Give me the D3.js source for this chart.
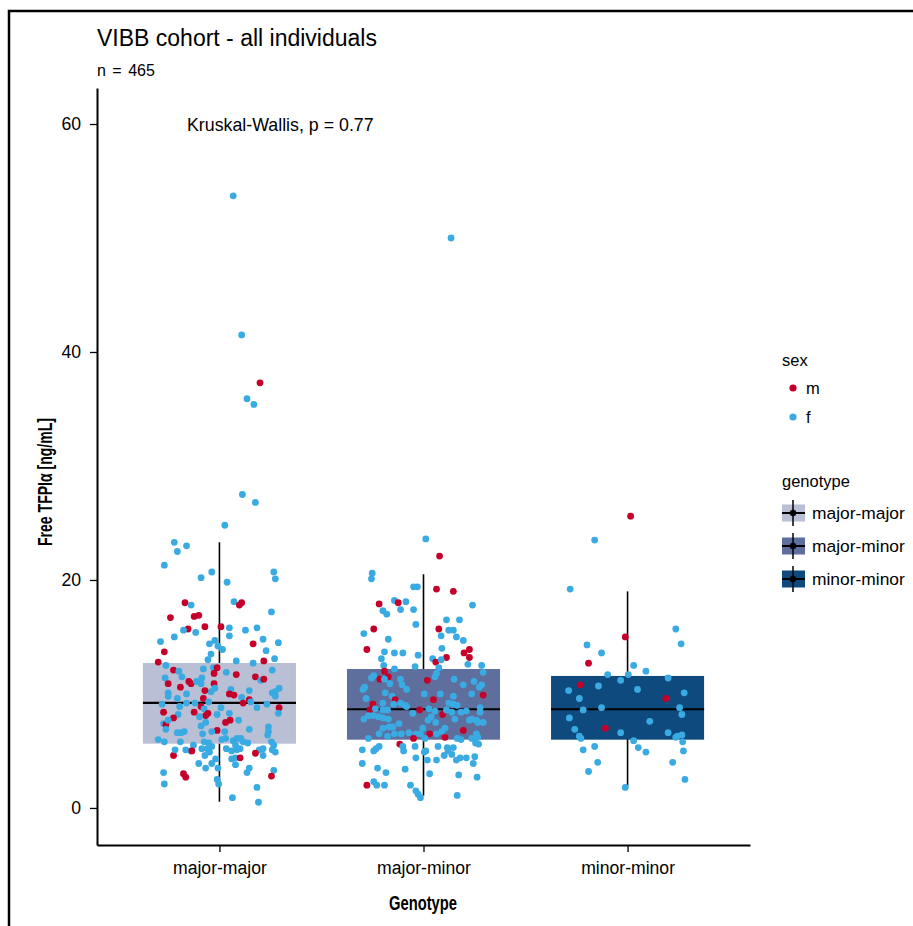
<!DOCTYPE html>
<html>
<head>
<meta charset="utf-8">
<script src="https://cdn.jsdelivr.net/npm/d3@7"></script>
<style>
  html, body { margin: 0; padding: 0; background: #fff; }
  svg text { font-family: "Liberation Sans", Arial, Helvetica, sans-serif; fill: #000; }
  .narrow { font-family: "Liberation Sans Narrow", "Arial Narrow", "Liberation Sans", sans-serif; }
</style>
</head>
<body>
<div id="chart"></div>
<script>
// categories
var genotypes = ["major-major", "major-minor", "minor-minor"];
var sexes = ["m", "f"];
var yTicks = [0, 20, 40, 60];

// box summaries (whisker low, q1, median, q3, whisker high)
var boxLow  = [0.55, 1.08, 1.87];
var boxQ1   = [5.64, 5.99, 5.99];
var boxMed  = [9.21, 8.66, 8.66];
var boxQ3   = [12.72, 12.19, 11.58];
var boxHigh = [23.3, 20.5, 19.0];

// major-major: values, jitter (fraction of jitter width), sex
var mmValues = [53.7, 41.5, 37.3, 35.9, 35.4, 27.5, 26.8, 24.8,
  23.3, 23.0, 22.5, 21.3, 20.7, 20.2, 19.8, 20.7, 20.1, 18.0,
  17.8, 18.1, 17.8, 18.0, 17.2, 16.7, 16.8, 16.9, 15.9, 15.9,
  15.7, 15.6, 15.4, 15.8, 15.1, 15.6, 15.8, 15.0, 14.6, 14.8,
  14.5, 14.4, 14.7, 14.4, 14.2, 13.9, 13.7, 13.8, 13.5, 13.0,
  13.1, 12.8, 12.5, 12.9, 12.7, 12.9, 12.1, 12.0, 11.5, 12.2,
  12.3, 12.3, 11.8, 11.9, 11.7, 11.5, 11.2, 11.3, 12.1, 11.4,
  11.1, 10.9, 11.1, 11.4, 10.9, 10.9, 10.6, 10.9, 10.5, 10.2,
  10.3, 10.4, 10.0, 9.9, 9.7, 10.3, 9.5, 9.2, 9.3, 8.8,
  9.1, 10.1, 10.2, 10.5, 9.8, 10.1, 9.8, 9.6, 10.0, 9.6,
  9.3, 9.2, 9.2, 8.9, 9.1, 8.9, 8.7, 8.8, 8.8, 8.3,
  8.4, 8.4, 8.3, 8.1, 8.2, 8.3, 8.2, 8.0, 7.9, 7.4,
  7.3, 6.9, 7.7, 7.7, 7.7, 7.5, 7.5, 7.2, 6.9, 6.8,
  6.7, 6.7, 6.6, 6.6, 6.7, 6.5, 5.8, 6.0, 5.8, 7.1,
  6.7, 6.4, 6.1, 5.9, 6.1, 5.8, 5.7, 5.5, 5.2, 5.1,
  5.0, 5.2, 6.0, 6.1, 5.8, 5.7, 5.4, 5.2, 4.9, 4.6,
  5.2, 5.5, 5.1, 5.0, 4.6, 5.0, 5.1, 5.8, 5.5, 4.9,
  5.1, 5.2, 5.1, 4.6, 4.8, 4.4, 4.3, 4.4, 3.8, 4.3,
  3.9, 3.5, 3.9, 3.5, 3.0, 2.7, 3.1, 2.1, 3.5, 3.1,
  3.3, 2.8, 2.5, 2.1, 1.8, 0.9, 0.5];
var mmJitter = [0.18, 0.29, 0.53, 0.36, 0.45, 0.30, 0.47, 0.07,
  -0.59, -0.43, -0.55, -0.72, -0.10, -0.24, 0.10, 0.71, 0.73, -0.45,
  -0.37, 0.19, 0.26, 0.29, 0.68, -0.64, -0.33, -0.27, -0.19, 0.02,
  -0.41, -0.47, -0.31, 0.13, 0.13, 0.34, 0.49, -0.59, -0.77, 0.57,
  0.77, 0.44, -0.06, -0.13, -0.02, 0.04, -0.72, 0.61, -0.11, -0.15,
  0.72, -0.80, -0.70, 0.22, 0.44, 0.58, -0.60, -0.53, -0.49, -0.21,
  -0.08, -0.03, -0.07, 0.09, 0.22, 0.47, 0.54, 0.58, 0.69, -0.71,
  -0.40, -0.37, -0.30, -0.23, -0.24, -0.67, -0.51, -0.07, -0.06, -0.11,
  -0.19, 0.15, 0.13, 0.19, 0.29, 0.39, 0.39, 0.31, 0.41, 0.49,
  0.62, 0.69, 0.73, 0.78, 0.73, -0.67, -0.67, -0.55, -0.43, -0.21,
  -0.14, -0.32, -0.43, -0.52, -0.75, -0.24, -0.20, 0.02, 0.78, 0.77,
  -0.73, -0.33, -0.15, -0.18, -0.03, 0.13, -0.54, -0.26, -0.60, -0.73,
  -0.70, -0.70, -0.67, 0.25, 0.14, 0.08, -0.18, -0.24, 0.39, -0.03,
  -0.10, 0.07, -0.50, -0.55, -0.46, -0.22, -0.51, -0.80, -0.72, 0.64,
  0.64, 0.63, 0.23, 0.18, 0.28, 0.31, 0.37, 0.21, 0.27, 0.23,
  0.16, 0.09, 0.03, 0.08, -0.20, -0.14, -0.10, -0.16, -0.13, -0.19,
  -0.23, -0.34, -0.44, -0.37, -0.60, -0.36, -0.58, 0.68, 0.71, 0.73,
  0.69, 0.57, 0.52, 0.57, 0.47, 0.21, 0.16, 0.27, 0.21, -0.05,
  -0.10, -0.02, -0.27, -0.18, -0.47, -0.44, -0.73, -0.72, 0.39, 0.36,
  0.71, 0.68, -0.03, -0.01, 0.49, 0.17, 0.51];
var mmSex = "ffmfffff" +
  "fffffffffm" + "ffmmfmmmmm" + "mfffffffff" + "fmffffmfff" + "fmfffmmfff" +
  "fmmfmmfmff" + "mmfffmmmff" + "mfmmffmmff" + "fffffffffm" + "fffffmffmf" +
  "mmmmffffmf" + "mfffmmfffm" + "ffffffffff" + "ffffffffff" + "ffffffffff" +
  "ffffmmffff" + "ffffmffmff" + "ffffmmffff" + "fmfffff";

// major-minor
var mnValues = [50.0,
  23.6, 22.1, 20.6, 20.1, 19.4, 19.4, 19.2, 19.0, 17.9, 18.2,
  18.0, 18.1, 17.4, 17.4, 17.3, 17.0, 17.8, 16.1, 16.5, 16.5,
  15.7, 15.7, 15.6, 15.6, 15.1, 15.0, 14.7, 15.3, 14.8, 13.9,
  13.7, 13.6, 13.6, 13.4, 14.0, 13.2, 13.6, 13.9, 13.2, 12.6,
  13.1, 12.5, 13.1, 12.8, 13.0, 12.4, 12.2, 12.3, 12.0, 12.5,
  11.9, 11.6, 11.4, 11.5, 11.3, 11.3, 11.8, 11.5, 11.2, 11.3,
  11.3, 10.8, 10.4, 10.9, 10.8, 11.1, 10.8, 10.6, 9.9, 10.0,
  10.6, 10.4, 9.6, 10.1, 9.8, 9.2, 9.5, 9.1, 9.2, 9.0,
  8.9, 10.0, 10.0, 9.5, 9.8, 9.2, 9.1, 9.0, 9.1, 8.6,
  8.7, 8.6, 8.6, 8.6, 8.3, 8.7, 8.5, 8.2, 8.0, 7.7,
  7.5, 8.6, 8.4, 7.8, 8.4, 8.5, 8.8, 8.4, 7.5, 7.7,
  7.7, 7.5, 7.8, 7.8, 8.1, 8.1, 8.0, 7.9, 7.8, 7.4,
  7.1, 7.1, 7.0, 6.5, 6.3, 6.5, 6.5, 6.6, 6.5, 6.5,
  7.0, 6.5, 6.5, 6.7, 7.0, 6.2, 6.8, 6.1, 6.0, 6.5,
  6.2, 6.1, 5.7, 5.6, 6.1, 6.1, 6.1, 5.6, 5.4, 5.0,
  5.4, 5.1, 5.0, 5.2, 5.4, 5.0, 4.9, 5.4, 5.3, 5.0,
  5.3, 4.7, 4.6, 4.2, 4.4, 4.4, 4.5, 3.9, 4.2, 4.2,
  4.4, 3.9, 3.5, 3.1, 3.4, 3.0, 2.9, 2.7, 2.0, 2.3,
  2.0, 2.0, 2.0, 1.5, 1.2, 0.9, 1.1];
var mnJitter = [0.36,
  0.03, 0.21, -0.67, -0.68, -0.13, -0.08, 0.17, 0.39, -0.58, -0.38,
  -0.33, -0.23, -0.30, -0.13, -0.53, -0.48, 0.64, -0.10, 0.30, 0.47,
  -0.65, 0.20, 0.33, 0.39, 0.23, 0.43, 0.52, -0.78, -0.46, -0.74,
  -0.51, -0.38, -0.27, -0.07, 0.24, 0.30, 0.53, 0.60, 0.60, 0.58,
  -0.55, -0.52, 0.12, 0.16, 0.23, -0.11, -0.38, 0.20, -0.51, 0.76,
  0.78, -0.65, -0.68, -0.46, -0.57, -0.51, 0.17, 0.15, 0.05, 0.40,
  -0.30, -0.28, -0.22, -0.44, 0.52, 0.66, 0.76, 0.73, 0.78, 0.63,
  -0.77, -0.79, -0.75, -0.50, -0.41, -0.53, -0.37, -0.39, -0.30, -0.24,
  -0.22, 0.01, 0.22, 0.13, 0.39, 0.33, 0.39, 0.44, -0.66, -0.70,
  -0.63, -0.53, -0.47, -0.05, -0.14, 0.07, 0.15, 0.25, 0.10, 0.06,
  0.16, 0.30, 0.37, 0.41, 0.49, 0.56, 0.74, 0.74, 0.71, 0.60,
  0.69, 0.78, 0.63, -0.78, -0.72, -0.66, -0.59, -0.53, -0.46, -0.32,
  -0.40, -0.45, -0.53, -0.58, -0.47, -0.38, -0.29, -0.19, -0.10, -0.04,
  -0.01, 0.08, 0.17, 0.24, 0.28, 0.28, 0.52, 0.44, 0.49, 0.69,
  0.71, 0.63, 0.68, 0.72, -0.72, -0.13, 0.02, -0.31, -0.27, -0.26,
  -0.11, -0.80, -0.65, -0.62, -0.58, 0.03, 0.01, 0.19, 0.31, 0.32,
  0.39, 0.37, 0.27, 0.43, 0.48, 0.56, 0.67, 0.65, 0.05, 0.17,
  -0.10, -0.80, -0.60, -0.49, -0.24, 0.08, 0.46, 0.70, -0.74, -0.65,
  -0.61, -0.51, -0.17, -0.10, -0.07, -0.04, 0.44];
var mnSex = "f" +
  "fmffffmmmf" + "mfffffffff" + "mmfffffffm" + "fffffmmmmf" + "fffmffffmf" +
  "fffmmfffmf" + "ffffffffmf" + "ffffffmfff" + "fffmffffmm" + "fffmfffmff" +
  "ffffffffff" + "ffffffffff" + "ffffffffff" + "fmfffmmfff" + "fffffmfmff" +
  "ffffffffff" + "ffffffffff" + "ffffffffmf" + "fffffff";

// minor-minor
var nnValues = [25.6, 23.5, 19.2, 15.7, 14.4, 15.0, 14.3, 13.6, 12.7, 12.5,
  12.0, 11.7, 11.7, 11.2, 11.4, 10.8, 10.3, 10.7, 10.4, 9.6,
  10.1, 9.6, 8.6, 8.8, 8.8, 8.2, 7.9, 7.6, 6.9, 7.0,
  6.6, 6.6, 6.3, 6.1, 6.2, 6.4, 5.8, 6.3, 5.9, 5.3,
  4.9, 5.4, 5.1, 5.0, 4.0, 4.0, 3.2, 2.5, 1.8];
var nnJitter = [0.04, -0.43, -0.75, 0.63, 0.70, -0.03, -0.53, -0.34, -0.51, 0.08,
  0.24, -0.26, 0.01, -0.09, 0.53, -0.62, -0.77, -0.38, 0.13, -0.63,
  0.74, 0.50, -0.58, -0.34, 0.68, 0.71, -0.76, 0.29, -0.69, -0.29,
  -0.09, 0.53, -0.63, -0.61, 0.63, 0.71, 0.72, 0.65, 0.08, 0.14,
  0.24, -0.43, -0.58, 0.73, -0.39, 0.59, -0.51, 0.75, -0.03];
var nnSex = "mffffmffmf" + "fffffmffff" + "fmfffffffm" + "ffffffffff" + "fffffffff";

var boxFill = ["#b9bfd5", "#5e6e9d", "#0e4a7e"];
var sexColor = { m: "#c4002a", f: "#3aabe2" };

function buildPoints() {
  var sets = [
    [mmValues, mmJitter, mmSex],
    [mnValues, mnJitter, mnSex],
    [nnValues, nnJitter, nnSex]
  ];
  var pts = [];
  sets.forEach(function(s, gi) {
    s[0].forEach(function(v, i) {
      pts.push({ g: genotypes[gi], value: v, jit: s[1][i], sex: s[2][i] });
    });
  });
  return pts;
}

function chart() {
  var w = 913, h = 926;
  var svg = d3.select("#chart").append("svg")
    .attr("width", w).attr("height", h);

  // outer frame (top and left edges visible)
  svg.append("path")
    .attr("d", "M9," + h + "V11H" + w)
    .attr("fill", "none").attr("stroke", "#000").attr("stroke-width", 2.5);

  var x = d3.scalePoint().domain(genotypes).range([97, 750]).padding(0.6);
  var y = d3.scaleLinear().domain([-3.25, 63.16]).range([845, 88]);
  var boxW = 0.75 * x.step();
  var jitW = 0.375 * x.step();

  var boxes = genotypes.map(function(g, i) {
    return { g: g, lo: boxLow[i], q1: boxQ1[i], med: boxMed[i], q3: boxQ3[i], hi: boxHigh[i], fill: boxFill[i] };
  });

  var plot = svg.append("g");

  plot.selectAll("line.whisker")
    .data(boxes)
    .enter()
    .append("line")
    .attr("class", "whisker")
    .attr("x1", function(d) { return x(d.g); })
    .attr("x2", function(d) { return x(d.g); })
    .attr("y1", function(d) { return y(d.lo); })
    .attr("y2", function(d) { return y(d.hi); })
    .attr("stroke", "#000").attr("stroke-width", 1.6);

  plot.selectAll("rect.box")
    .data(boxes)
    .enter()
    .append("rect")
    .attr("class", "box")
    .attr("x", function(d) { return x(d.g) - boxW / 2; })
    .attr("width", boxW)
    .attr("y", function(d) { return y(d.q3); })
    .attr("height", function(d) { return y(d.q1) - y(d.q3); })
    .attr("fill", function(d) { return d.fill; });

  plot.selectAll("line.median")
    .data(boxes)
    .enter()
    .append("line")
    .attr("class", "median")
    .attr("x1", function(d) { return x(d.g) - boxW / 2; })
    .attr("x2", function(d) { return x(d.g) + boxW / 2; })
    .attr("y1", function(d) { return y(d.med); })
    .attr("y2", function(d) { return y(d.med); })
    .attr("stroke", "#000").attr("stroke-width", 2.2);

  plot.selectAll("circle")
    .data(buildPoints())
    .enter()
    .append("circle")
    .attr("cx", function(d) { return x(d.g) + d.jit * jitW; })
    .attr("cy", function(d) { return y(d.value); })
    .attr("r", 3.4)
    .attr("fill", function(d) { return sexColor[d.sex]; });

  // axes
  var yAxis = svg.append("g")
    .attr("transform", "translate(97,0)")
    .call(d3.axisLeft(y).tickValues(yTicks).tickSize(7).tickSizeOuter(0).tickPadding(9));
  var xAxis = svg.append("g")
    .attr("transform", "translate(0,845)")
    .call(d3.axisBottom(x).tickSize(7).tickSizeOuter(0).tickPadding(10));

  [yAxis, xAxis].forEach(function(a) {
    a.select(".domain").attr("stroke", "#000").attr("stroke-width", 2);
    a.selectAll(".tick line").attr("stroke", "#000").attr("stroke-width", 1.3);
    a.selectAll(".tick text")
      .attr("fill", "#000")
      .attr("font-family", "'Liberation Sans', Arial, sans-serif")
      .attr("font-size", "17.6px");
  });

  // titles
  svg.append("text").text("VIBB cohort - all individuals")
    .attr("x", 97).attr("y", 46)
    .attr("font-size", "23px");
  svg.append("text").text("n = 465")
    .attr("x", 97).attr("y", 76)
    .attr("font-size", "16px")
    .attr("word-spacing", "2px");
  svg.append("text").text("Kruskal-Wallis, p = 0.77")
    .attr("x", 187).attr("y", 131)
    .attr("font-size", "17.8px");

  svg.append("text").text("Genotype")
    .attr("class", "narrow")
    .attr("x", 423).attr("y", 910)
    .attr("text-anchor", "middle")
    .attr("font-size", "20px")
    .attr("font-weight", "bold")
    .attr("textLength", 68).attr("lengthAdjust", "spacingAndGlyphs");

  svg.append("text").text("Free TFPIα [ng/mL]")
    .attr("class", "narrow")
    .attr("transform", "translate(52,482) rotate(-90)")
    .attr("text-anchor", "middle")
    .attr("font-size", "20px")
    .attr("font-weight", "bold")
    .attr("textLength", 128).attr("lengthAdjust", "spacingAndGlyphs");

  // legend: sex
  var lg = svg.append("g").attr("transform", "translate(782,0)");
  lg.append("text").text("sex").attr("x", 0).attr("y", 366).attr("font-size", "16.5px");
  lg.selectAll("g.sexkey")
    .data(sexes)
    .enter()
    .append("g")
    .attr("class", "sexkey")
    .each(function(d, i) {
      var cy = 388 + i * 29;
      d3.select(this).append("circle")
        .attr("cx", 11).attr("cy", cy).attr("r", 3.6)
        .attr("fill", sexColor[d]);
      d3.select(this).append("text").text(d)
        .attr("x", 24).attr("y", cy).attr("dy", "0.35em")
        .attr("font-size", "16.5px");
    });

  // legend: genotype
  lg.append("text").text("genotype").attr("x", 0).attr("y", 487).attr("font-size", "16.5px");
  lg.selectAll("g.genokey")
    .data(boxes)
    .enter()
    .append("g")
    .attr("class", "genokey")
    .each(function(d, i) {
      var cy = 513 + i * 33;
      var k = d3.select(this);
      k.append("rect").attr("x", 0).attr("y", cy - 8.5).attr("width", 23).attr("height", 17)
        .attr("fill", d.fill);
      k.append("line").attr("x1", 11).attr("x2", 11).attr("y1", cy - 13).attr("y2", cy + 13)
        .attr("stroke", "#000").attr("stroke-width", 1.5);
      k.append("line").attr("x1", 0).attr("x2", 23).attr("y1", cy).attr("y2", cy)
        .attr("stroke", "#000").attr("stroke-width", 2);
      k.append("circle").attr("cx", 11).attr("cy", cy).attr("r", 3.2).attr("fill", "#000");
      k.append("text").text(d.g)
        .attr("x", 30).attr("y", cy).attr("dy", "0.35em")
        .attr("font-size", "17.4px");
    });
}

chart();
</script>
</body>
</html>
